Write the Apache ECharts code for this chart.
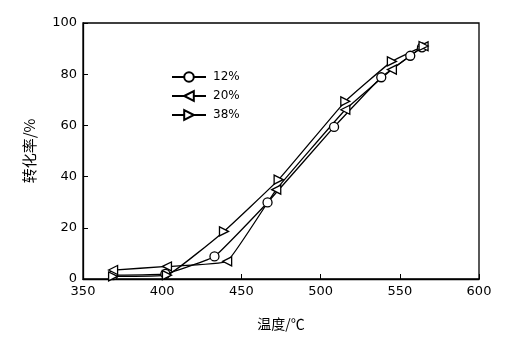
<!DOCTYPE html>
<html><head><meta charset="utf-8">
<script src="https://cdn.jsdelivr.net/npm/echarts@6/dist/echarts.min.js"></script>
<style>html,body{margin:0;padding:0;background:#fff}#c{width:507px;height:350px}</style>
</head><body><div id="c"></div>
<script>
const xTicks = [350, 400, 450, 500, 550, 600];
const yTicks = [0, 20, 40, 60, 80, 100];
const seriesNames = ['12%', '20%', '38%'];
const s12 = [[369, 1.5], [402, 2], [433, 8.8], [466.5, 29.9], [508.5, 59.4], [538.3, 78.8], [556.6, 87.2], [564, 90.5]];
const s20 = [[369, 3.5], [403, 4.9], [441, 6.9], [472, 34.9], [515.6, 66.1], [545, 81.8], [565, 90.9]];
const s38 = [[369, 1], [403, 1.5], [439, 18.6], [473.5, 38.8], [515.6, 69.4], [545, 85], [565, 91]];

const leftTri = 'path://M0,5 L9,0 L9,10 Z';
const rightTri = 'path://M9,5 L0,0 L0,10 Z';
const font = 'DejaVu Sans';
function mk(name, data, symbol) {
  return {
    name, type: 'line', data, symbol, symbolSize: 9, smooth: 0.1,
    showAllSymbol: true,
    lineStyle: { color: '#000', width: 1.3 },
    itemStyle: { color: '#fff', borderColor: '#000', borderWidth: 1.3 },
    emphasis: { disabled: true }
  };
}
const chart = echarts.init(document.getElementById('c'), null, { renderer: 'canvas' });
chart.setOption({
  animation: false,
  backgroundColor: '#fff',
  grid: { left: 83, right: 28, top: 23, bottom: 71, show: true, borderColor: '#000', borderWidth: 1.3 },
  legend: {
    orient: 'vertical', left: 166, top: 66, itemGap: 7, itemWidth: 34, itemHeight: 12,
    data: seriesNames,
    textStyle: { fontFamily: font, fontSize: 12, color: '#000', padding: [0, 0, 0, 2] },
    inactiveColor: '#000'
  },
  xAxis: {
    type: 'value', min: xTicks[0], max: xTicks[xTicks.length - 1], interval: 50,
    name: '温度/℃', nameLocation: 'middle', nameGap: 38,
    nameTextStyle: { fontFamily: 'Noto Sans CJK SC', fontSize: 14, color: '#000' },
    axisLine: { show: true, lineStyle: { color: '#000', width: 1.3 } },
    axisTick: { show: true, inside: true, length: 5, lineStyle: { color: '#000' } },
    axisLabel: { fontFamily: font, fontSize: 13, color: '#000', margin: 6 },
    splitLine: { show: false }
  },
  yAxis: {
    type: 'value', min: yTicks[0], max: yTicks[yTicks.length - 1], interval: 20,
    name: '转化率/%', nameLocation: 'middle', nameGap: 46, nameRotate: 90,
    nameTextStyle: { fontFamily: 'Noto Sans CJK SC', fontSize: 15, color: '#000' },
    axisLine: { show: true, lineStyle: { color: '#000', width: 1.3 } },
    axisTick: { show: true, inside: true, length: 5, lineStyle: { color: '#000' } },
    axisLabel: { fontFamily: font, fontSize: 13, color: '#000', margin: 6 },
    splitLine: { show: false }
  },
  series: [mk(seriesNames[0], s12, 'circle'), mk(seriesNames[1], s20, leftTri), mk(seriesNames[2], s38, rightTri)]
});
</script></body></html>
